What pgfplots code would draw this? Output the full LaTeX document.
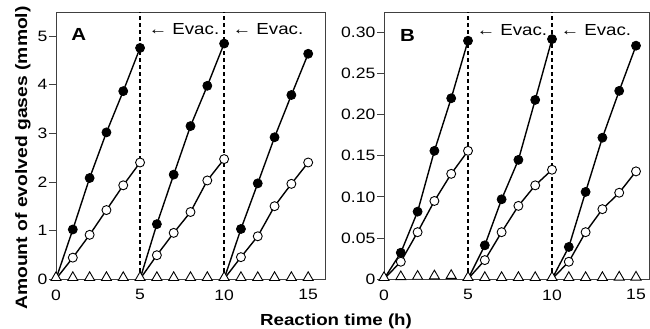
\documentclass[border=0pt]{standalone}
\usepackage{fontspec}
\setmainfont{Liberation Sans}[FakeStretch=1.17]
\usepackage{pgfplots}
\pgfplotsset{compat=1.18}

\pgfplotsset{
 panel/.style={
  scale only axis, height=267pt,
  xmin=0,
  xtick={0,5,10,15}, xticklabels={0,5,10,15},
  tick align=outside, xtick pos=bottom, ytick pos=left,
  major tick length=7pt,
  axis line style={black!75, line width=0.7pt},
  ytick style={black!75, line width=0.7pt},
  xtick style={draw=none},
  ticklabel style={font=\fontsize{15}{18}\selectfont},
  yticklabel style={inner sep=1.5pt},
  clip=false,
 },
 filled/.style={black, line width=1.4pt, mark=*, mark size=4.5pt, mark indices={2,3,4,5,6}, mark options={fill=black, draw=black, line width=0.8pt}},
 open/.style={black, line width=1.4pt, mark=*, mark size=4.5pt, mark indices={2,3,4,5,6}, mark options={fill=white, draw=black, line width=0.9pt}},
 tri/.style={only marks, mark=triangle*, mark size=5.8pt, mark options={fill=white, draw=black, line width=0.9pt, yshift=1.4pt}},
 evac/.style={black, line width=1.6pt, dash pattern=on 4pt off 3pt},
}
\tikzset{
 evlab/.style={anchor=base west, font=\fontsize{16}{19}\selectfont, inner sep=0pt},
 letter/.style={anchor=base west, font=\bfseries\fontsize{17.5}{20}\selectfont, inner sep=0pt},
}

\begin{document}
\begin{tikzpicture}
\useasboundingbox (0,0) rectangle (650pt,329pt);

% Panel A
\begin{axis}[panel, at={(56pt,50pt)}, anchor=south west, width=269pt,
  xmax=16, ymin=0, ymax=5.5,
  ytick={0,1,2,3,4,5}, yticklabels={0,1,2,3,4,5}]
\addplot[evac] coordinates {(5,0) (5,5.5)};
\addplot[evac] coordinates {(10,0) (10,5.5)};
\addplot[tri] coordinates {(0,0)(1,0)(2,0)(3,0)(4,0)(5,0)(6,0)(7,0)(8,0)(9,0)(10,0)(11,0)(12,0)(13,0)(14,0)(15,0)};
\addplot[open] coordinates {(0,0)(1,0.44)(2,0.91)(3,1.42)(4,1.93)(5,2.40)};
\addplot[open] coordinates {(5,0)(6,0.49)(7,0.95)(8,1.38)(9,2.03)(10,2.47)};
\addplot[open] coordinates {(10,0)(11,0.45)(12,0.88)(13,1.50)(14,1.96)(15,2.40)};
\addplot[filled] coordinates {(0,0)(1,1.02)(2,2.08)(3,3.02)(4,3.87)(5,4.76)};
\addplot[filled] coordinates {(5,0)(6,1.13)(7,2.15)(8,3.15)(9,3.98)(10,4.85)};
\addplot[filled] coordinates {(10,0)(11,1.03)(12,1.97)(13,2.92)(14,3.79)(15,4.64)};
\node[evlab] at (axis cs:5.5,5.03) {←\hspace{5pt}Evac.};
\node[evlab] at (axis cs:10.5,5.03) {←\hspace{5pt}Evac.};
\node[letter] at (rel axis cs:0.056,0.893) {A};
\end{axis}

% Panel B
\begin{axis}[panel, at={(384pt,50pt)}, anchor=south west, width=265.5pt,
  xmax=15.8036, ymin=0, ymax=0.325,
  ytick={0,0.05,0.10,0.15,0.20,0.25,0.30},
  yticklabels={0,0.05,0.10,0.15,0.20,0.25,0.30}]
\addplot[evac] coordinates {(5,0) (5,0.325)};
\addplot[evac] coordinates {(10,0) (10,0.325)};
\addplot[tri] coordinates {(0,0)(1,0.001)(2,0.0015)(3,0.002)(4,0.0025)(5,0)(6,0)(7,0)(8,0)(9,0)(10,0)(11,0)(12,0)(13,0)(14,0.0005)(15,0.0005)};
\addplot[open] coordinates {(0,0)(1,0.021)(2,0.057)(3,0.095)(4,0.128)(5,0.156)};
\addplot[open] coordinates {(5,0)(6,0.023)(7,0.057)(8,0.089)(9,0.114)(10,0.133)};
\addplot[open] coordinates {(10,0)(11,0.021)(12,0.057)(13,0.085)(14,0.105)(15,0.131)};
\addplot[filled] coordinates {(0,0)(1,0.032)(2,0.082)(3,0.156)(4,0.220)(5,0.290)};
\addplot[filled] coordinates {(5,0)(6,0.041)(7,0.097)(8,0.145)(9,0.218)(10,0.292)};
\addplot[filled] coordinates {(10,0)(11,0.039)(12,0.106)(13,0.172)(14,0.229)(15,0.284)};
\node[evlab] at (axis cs:5.5,0.2965) {←\hspace{5pt}Evac.};
\node[evlab] at (axis cs:10.5,0.2965) {←\hspace{5pt}Evac.};
\node[letter] at (rel axis cs:0.06,0.89) {B};
\end{axis}

\node[anchor=base, rotate=90, font=\bfseries\fontsize{16.5}{19}\selectfont, inner sep=0pt] at (27pt,171pt) {Amount of evolved gases (mmol)};
\node[anchor=base, font=\bfseries\fontsize{16}{19}\selectfont, inner sep=0pt] at (336pt,4pt) {Reaction time (h)};
\end{tikzpicture}
\end{document}
